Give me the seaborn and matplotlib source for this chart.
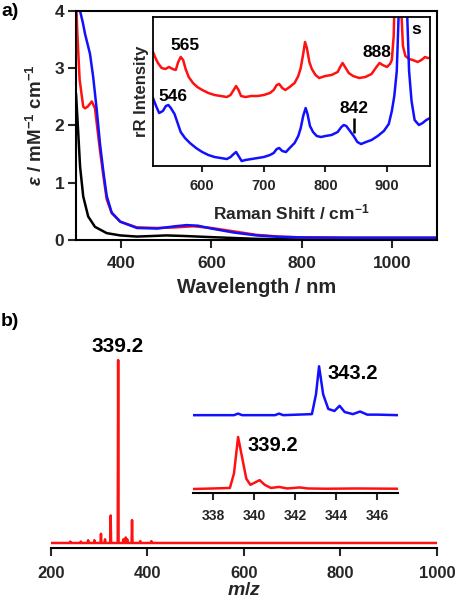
import numpy as np
import matplotlib.pyplot as plt
import seaborn as sns

# ---- (a) UV-vis spectra ----
wl_red = [300, 303, 308, 316, 320, 326, 335, 342, 353, 361, 368, 379, 398, 435, 480, 520, 560, 600, 650, 700, 750, 800, 900, 1100]
eps_red = [4.2, 3.6, 2.8, 2.33, 2.3, 2.33, 2.42, 2.3, 1.57, 1.1, 0.71, 0.47, 0.32, 0.22, 0.21, 0.22, 0.24, 0.21, 0.15, 0.09, 0.06, 0.045, 0.04, 0.04]
wl_blue = [305, 309, 315, 320, 331, 338, 346, 353, 361, 368, 379, 398, 435, 480, 520, 545, 570, 600, 650, 700, 750, 800, 900, 1100]
eps_blue = [4.4, 4.0, 3.8, 3.6, 3.25, 2.85, 2.27, 1.69, 1.17, 0.77, 0.48, 0.32, 0.21, 0.2, 0.24, 0.26, 0.25, 0.2, 0.13, 0.08, 0.055, 0.045, 0.04, 0.04]
wl_black = [300, 305, 309, 316, 327, 342, 368, 398, 435, 470, 500, 540, 600, 700, 800, 1100]
eps_black = [2.56, 1.86, 1.28, 0.76, 0.41, 0.23, 0.12, 0.08, 0.06, 0.07, 0.08, 0.07, 0.05, 0.02, 0.01, 0.01]

# ---- (a) inset: resonance Raman (arbitrary units) ----
rr_shift_red = [520, 524, 528, 534, 540, 546, 552, 557, 561, 565, 569, 573, 578, 585, 592, 600, 610, 620, 630, 640,
                646, 651, 655, 659, 663, 670, 680, 690, 700, 710, 716, 721, 725, 730, 735, 742, 750, 756, 760, 764,
                767, 770, 774, 778, 784, 790, 800, 810, 820, 825, 828, 832, 838, 845, 855, 865, 875, 883, 888, 893,
                900, 905, 908, 911, 913, 915, 920, 923, 926, 930, 936, 942, 950, 956, 962, 966, 970]
rr_int_red = [114, 108, 103, 98, 97, 99, 97, 96, 104, 109, 106, 97, 89, 83, 79, 76, 73, 71, 70, 69,
              71, 76, 80, 76, 70, 69, 70, 70, 71, 73, 76, 81, 82, 78, 76, 79, 83, 90, 98, 112,
              124, 118, 104, 97, 91, 88, 90, 91, 94, 100, 103, 99, 93, 90, 88, 89, 92, 99, 103, 101,
              99, 102, 106, 130, 180, 220, 220, 160, 120, 110, 107, 106, 104, 106, 109, 108, 108]
rr_shift_blue = [520, 525, 530, 536, 541, 545, 549, 555, 560, 565, 572, 580, 590, 600, 610, 620, 630, 640, 646, 651,
                 655, 659, 664, 670, 680, 690, 700, 710, 716, 721, 725, 730, 736, 742, 750, 756, 760, 764, 768, 771,
                 775, 780, 786, 793, 800, 810, 820, 826, 830, 834, 840, 846, 852, 858, 866, 875, 885, 895, 903, 908,
                 912, 916, 919, 921, 930, 933, 936, 940, 945, 952, 958, 964, 970]
rr_int_blue = [68, 60, 53, 55, 60, 61, 58, 52, 43, 34, 28, 23, 18, 14, 11, 9, 8, 7, 9, 12,
               14, 10, 5, 6, 7, 8, 9, 11, 13, 17, 18, 15, 14, 18, 23, 30, 38, 50, 58, 52,
               40, 34, 30, 29, 30, 31, 34, 39, 41, 40, 35, 30, 24, 22, 24, 26, 30, 35, 42, 55,
               70, 95, 150, 220, 220, 150, 95, 65, 46, 41, 43, 46, 48]

# ---- (b) ESI-MS ----
ms_peak_mz = [240, 262, 277, 290, 303.6, 312, 323.7, 339.2, 350, 355, 358, 368, 385, 408]
ms_peak_int = [0.8, 0.8, 1.5, 1.5, 5, 2, 15, 100, 2, 3, 2, 12.5, 1, 1]

# ---- (b) inset: isotope patterns ----
iso_mz_red = [337.0, 338.0, 338.8, 339.0, 339.2, 339.4, 339.6, 339.8, 340.0, 340.25, 340.5, 340.8, 341.2, 341.6, 342.2, 342.6, 343.5, 345.0, 347.0]
iso_int_red = [0, 1, 2, 30, 100, 60, 20, 8, 12, 17, 8, 2, 4, 1, 3, 1, 0.5, 1, 0.5]
iso_mz_blue = [337.0, 339.0, 339.2, 339.4, 341.0, 341.2, 341.4, 342.8, 343.0, 343.15, 343.35, 343.6, 343.9, 344.15, 344.4, 344.8, 345.15, 345.5, 346.0, 347.0]
iso_int_blue = [0, 0, 3, 0, 0, 3, 0, 2, 40, 94, 40, 12, 8, 18, 6, 2, 7, 1, 1, 0]
blue_offset = 142

RED = "#ff1111"
BLUE = "#1111ff"
LW = 1.8

sns.set_style("ticks")
plt.rcParams["font.family"] = ["Liberation Sans", "DejaVu Sans"]
plt.rcParams.update({
    "font.weight": "bold",
    "axes.labelweight": "bold",
    "mathtext.fontset": "custom",
    "mathtext.rm": "Liberation Sans:bold",
    "mathtext.bf": "Liberation Sans:bold",
    "mathtext.it": "Liberation Sans:italic:bold",
    "mathtext.sf": "Liberation Sans:italic",
    "mathtext.default": "rm",
    "axes.linewidth": 1.5,
    "xtick.major.width": 1.5,
    "ytick.major.width": 1.5,
    "xtick.major.size": 5.5,
    "ytick.major.size": 5.5,
    "xtick.direction": "out",
    "ytick.direction": "out",
    "axes.edgecolor": "black",
    "text.color": "black",
})

fig = plt.figure(figsize=(4.56, 6.0), dpi=100)

# ---------------- panel a ----------------
ax_a = fig.add_axes([0.1667, 0.6, 0.7916, 0.3817])
sns.lineplot(x=wl_black, y=eps_black, ax=ax_a, color="black", lw=LW, sort=False, estimator=None)
sns.lineplot(x=wl_red, y=eps_red, ax=ax_a, color=RED, lw=LW, sort=False, estimator=None)
sns.lineplot(x=wl_blue, y=eps_blue, ax=ax_a, color=BLUE, lw=LW, sort=False, estimator=None)
ax_a.set_xlim(300, 1100)
ax_a.set_ylim(0, 4)
ax_a.set_xticks([400, 600, 800, 1000])
ax_a.set_yticks([0, 1, 2, 3, 4])
ax_a.tick_params(axis="x", labelsize=12.5, pad=6)
ax_a.tick_params(axis="y", labelsize=12.5, pad=3)
ax_a.set_xlabel("Wavelength / nm", fontsize=14.5, labelpad=5)
ax_a.set_ylabel(r"$\mathsf{ε}$ / mM$^{-1}$ cm$^{-1}$", fontsize=13.5, labelpad=6)
for s in ax_a.spines.values():
    s.set_visible(True)

# inset Raman
ax_r = fig.add_axes([0.3355, 0.7233, 0.6075, 0.2484])
sns.lineplot(x=rr_shift_red, y=rr_int_red, ax=ax_r, color=RED, lw=LW, sort=False, estimator=None)
sns.lineplot(x=rr_shift_blue, y=rr_int_blue, ax=ax_r, color=BLUE, lw=LW, sort=False, estimator=None)
ax_r.set_xlim(520, 970)
ax_r.set_ylim(0, 149)
ax_r.set_xticks([600, 700, 800, 900])
ax_r.set_yticks([])
ax_r.tick_params(axis="x", labelsize=10.5, length=4, pad=5)
ax_r.set_xlabel("Raman Shift / cm$^{-1}$", fontsize=12.5, labelpad=7)
ax_r.set_ylabel("rR Intensity", fontsize=12, labelpad=3)
for s in ax_r.spines.values():
    s.set_visible(True)
    s.set_linewidth(1.3)
ax_r.text(572, 120.5, "565", fontsize=12.5, ha="center", va="center")
ax_r.text(883, 113, "888", fontsize=12.5, ha="center", va="center")
ax_r.text(553, 70, "546", fontsize=12.5, ha="center", va="center")
ax_r.text(846, 58, "842", fontsize=12.5, ha="center", va="center")
ax_r.vlines(846, 33, 48, color="black", lw=1.8)
ax_r.text(948, 136, "s", fontsize=12.5, ha="center", va="center")

fig.text(0.002, 0.995, "a)", fontsize=14, fontweight="bold", ha="left", va="top")

# ---------------- panel b ----------------
ax_b = fig.add_axes([0.1118, 0.0867, 0.8465, 0.355])
w = 0.9
mz = np.array(ms_peak_mz)
stick_x = np.concatenate([[200], np.column_stack([mz - w, mz, mz + w]).ravel(), [1000]])
stick_y = np.concatenate([[0], np.column_stack([np.zeros(len(mz)), ms_peak_int, np.zeros(len(mz))]).ravel(), [0]])
sns.lineplot(x=stick_x, y=stick_y, ax=ax_b, color=RED, lw=LW, sort=False, estimator=None)
ax_b.set_xlim(200, 1000)
ax_b.set_ylim(-2.73, 113.7)
ax_b.set_xticks([200, 400, 600, 800, 1000])
ax_b.set_yticks([])
ax_b.tick_params(axis="x", labelsize=12, pad=7.5)
ax_b.set_xlabel(r"$\mathit{m/z}$", fontsize=14, labelpad=1)
sns.despine(ax=ax_b, left=True)
ax_b.text(338, 107.3, "339.2", fontsize=15, ha="center", va="center")

# inset isotope pattern
ax_i = fig.add_axes([0.4232, 0.17833, 0.4496, 0.23])
sns.lineplot(x=iso_mz_red, y=iso_int_red, ax=ax_i, color=RED, lw=LW, sort=False, estimator=None)
sns.lineplot(x=iso_mz_blue, y=np.array(iso_int_blue) + blue_offset, ax=ax_i, color=BLUE, lw=LW, sort=False, estimator=None)
ax_i.set_xlim(337, 347)
ax_i.set_ylim(-7.7, 257.7)
ax_i.set_xticks([338, 340, 342, 344, 346])
ax_i.set_yticks([])
ax_i.tick_params(axis="x", labelsize=10, length=5, pad=6.5)
sns.despine(ax=ax_i, left=True)
ax_i.text(344.8, 223, "343.2", fontsize=14.5, ha="center", va="center")
ax_i.text(340.87, 82.7, "339.2", fontsize=14.5, ha="center", va="center")

fig.text(0.002, 1 - 313 / 600, "b)", fontsize=14, fontweight="bold", ha="left", va="top")

fig.savefig("out.png", dpi=100)
